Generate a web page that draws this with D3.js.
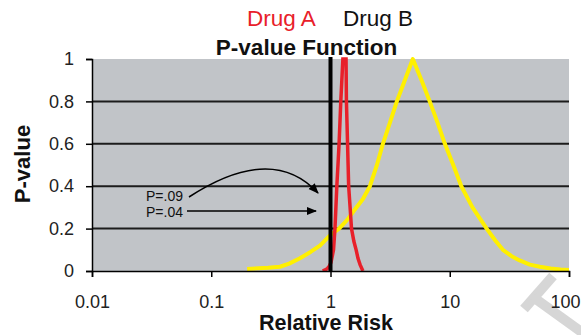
<!DOCTYPE html>
<html>
<head>
<meta charset="utf-8">
<script src="https://cdn.jsdelivr.net/npm/d3@7"></script>
<style>
  html, body { margin: 0; padding: 0; background: #ffffff; }
  svg { display: block; font-family: "Liberation Sans", Arial, sans-serif; }
</style>
</head>
<body>
<svg id="chart" width="581" height="335"></svg>
<script>
// ---- data ----
const xTickValues = [0.01, 0.1, 1, 10, 100];
const xTickLabels = ["0.01", "0.1", "1", "10", "100"];
const yTickValues = [0, 0.2, 0.4, 0.6, 0.8, 1];
const yTickLabels = ["0", "0.2", "0.4", "0.6", "0.8", "1"];
const gridValues = [0.2, 0.4, 0.6, 0.8];

const seriesNames = ["Drug A", "Drug B"];

const drugA_rr = [0.86, 0.90, 0.935, 0.97, 1.01, 1.06, 1.09, 1.11, 1.13, 1.155, 1.18, 1.20, 1.22, 1.245, 1.27, 1.31, 1.35, 1.36, 1.375, 1.39, 1.405, 1.42, 1.46, 1.50, 1.57, 1.64, 1.70, 1.77, 1.87];
const drugA_p  = [0.0, 0.005, 0.01, 0.02, 0.04, 0.1, 0.2, 0.3, 0.4, 0.5, 0.6, 0.7, 0.8, 0.9, 1.0, 1.0, 1.0, 0.8, 0.7, 0.6, 0.5, 0.4, 0.3, 0.2, 0.14, 0.1, 0.06, 0.03, 0.0];

const drugB_rr = [0.2, 0.3, 0.377, 0.45, 0.555, 0.68, 0.816, 1.0, 1.18, 1.375, 1.6, 1.87, 2.14, 2.45, 2.75, 3.15, 3.6, 4.2, 4.9, 5.8, 6.79, 7.9, 9.1, 10.7, 12.5, 15.5, 20.4, 24, 27.9, 33, 38.6, 47, 57, 70, 85, 100];
const drugB_p  = [0.01, 0.015, 0.02, 0.035, 0.06, 0.09, 0.12, 0.17, 0.2, 0.24, 0.29, 0.34, 0.4, 0.5, 0.6, 0.7, 0.8, 0.9, 1.0, 0.9, 0.8, 0.7, 0.6, 0.5, 0.4, 0.3, 0.2, 0.145, 0.1, 0.07, 0.05, 0.03, 0.02, 0.012, 0.007, 0.005];

const refLineRR = 1;
const annotations = ["P=.09", "P=.04"];

// ---- layout ----
const pL = 92, pR = 569, pT = 59, pB = 271;
const svg = d3.select("#chart");

const x = d3.scaleLog().domain([0.01, 100]).range([pL, pR]);
const y = d3.scaleLinear().domain([0, 1]).range([pB, pT]);

// watermark (behind)
const wm = svg.append("g").attr("stroke", "#d6d6d6").attr("stroke-width", 10).attr("fill", "none");
wm.append("path").attr("d", "M524,309 L553,276");
wm.append("path").attr("d", "M533,297 L583,333");

// plot background
svg.append("rect").attr("x", pL).attr("y", pT)
  .attr("width", pR - pL).attr("height", pB - pT)
  .attr("fill", "#c1c4c8");

// gridlines
svg.append("g").selectAll("line").data(gridValues).join("line")
  .attr("x1", pL).attr("x2", pR)
  .attr("y1", d => y(d)).attr("y2", d => y(d))
  .attr("stroke", "#1c1c1c").attr("stroke-width", 2);

// clip
svg.append("clipPath").attr("id", "clip").append("rect")
  .attr("x", pL).attr("y", pT - 2).attr("width", pR - pL).attr("height", pB - pT + 2);

const line = d3.line().x(d => x(d[0])).y(d => y(d[1]));

const plotG = svg.append("g").attr("clip-path", "url(#clip)");

// Drug B (yellow)
plotG.append("path")
  .datum(drugB_rr.map((r, i) => [r, drugB_p[i]]))
  .attr("d", line).attr("fill", "none")
  .attr("stroke", "#fff000").attr("stroke-width", 4).attr("stroke-linejoin", "round");

// reference line at RR = 1
svg.append("line")
  .attr("x1", x(refLineRR)).attr("x2", x(refLineRR))
  .attr("y1", pT - 2).attr("y2", pB)
  .attr("stroke", "#000").attr("stroke-width", 4);

// Drug A (red)
plotG.append("path")
  .datum(drugA_rr.map((r, i) => [r, drugA_p[i]]))
  .attr("d", line).attr("fill", "none")
  .attr("stroke", "#e8202a").attr("stroke-width", 3.5).attr("stroke-linejoin", "miter");

// axes
const xAxis = d3.axisBottom(x).tickValues(xTickValues)
  .tickFormat((d, i) => xTickLabels[i]).tickSize(6).tickPadding(18);
const gx = svg.append("g").attr("transform", `translate(0,${pB})`).call(xAxis);
gx.select(".domain").attr("stroke", "#000").attr("stroke-width", 1.5);
gx.selectAll(".tick line").attr("stroke", "#000").attr("stroke-width", 1.5);
gx.selectAll(".tick text").attr("font-size", 18).attr("fill", "#222")
  .attr("font-family", "Liberation Sans, Arial, sans-serif");
// keep the last label inside the window
gx.selectAll(".tick text").filter((d, i) => i === xTickValues.length - 1)
  .attr("text-anchor", "end").attr("x", 580 - x(100));

const yAxis = d3.axisLeft(y).tickValues(yTickValues)
  .tickFormat((d, i) => yTickLabels[i]).tickSize(6).tickPadding(12);
const gy = svg.append("g").attr("transform", `translate(${pL},0)`).call(yAxis);
gy.select(".domain").attr("stroke", "#000").attr("stroke-width", 1.5);
gy.selectAll(".tick line").attr("stroke", "#000").attr("stroke-width", 1.5);
gy.selectAll(".tick text").attr("font-size", 18).attr("fill", "#222")
  .attr("font-family", "Liberation Sans, Arial, sans-serif");

// titles
svg.append("text").attr("x", 247).attr("y", 26)
  .attr("font-size", 22.5).attr("fill", "#e8202a").text(seriesNames[0]);
svg.append("text").attr("x", 343).attr("y", 26)
  .attr("font-size", 22.5).attr("fill", "#111").text(seriesNames[1]);

svg.append("text").attr("x", 306.5).attr("y", 54.5).attr("text-anchor", "middle")
  .attr("font-size", 22.5).attr("font-weight", "bold").attr("fill", "#111")
  .text("P-value Function");

svg.append("text").attr("x", 326).attr("y", 330).attr("text-anchor", "middle")
  .attr("font-size", 21.5).attr("font-weight", "bold").attr("fill", "#111")
  .text("Relative Risk");

svg.append("text").attr("transform", "translate(30,164) rotate(-90)")
  .attr("text-anchor", "middle")
  .attr("font-size", 22).attr("font-weight", "bold").attr("fill", "#111")
  .text("P-value");

// annotations
svg.append("defs").append("marker").attr("id", "arr")
  .attr("viewBox", "0 0 10 10").attr("refX", 9).attr("refY", 5)
  .attr("markerWidth", 7).attr("markerHeight", 7).attr("orient", "auto")
  .append("path").attr("d", "M0,1 L10,5 L0,9 Z").attr("fill", "#000");

svg.append("text").attr("x", 146).attr("y", 201).attr("font-size", 14).attr("fill", "#111").text(annotations[0]);
svg.append("text").attr("x", 146).attr("y", 217).attr("font-size", 14).attr("fill", "#111").text(annotations[1]);

svg.append("path").attr("d", "M189,197 Q272,143 318,193")
  .attr("fill", "none").attr("stroke", "#000").attr("stroke-width", 1.5)
  .attr("marker-end", "url(#arr)");
svg.append("path").attr("d", "M187,211 L316,211")
  .attr("fill", "none").attr("stroke", "#000").attr("stroke-width", 1.5)
  .attr("marker-end", "url(#arr)");
</script>
</body>
</html>
